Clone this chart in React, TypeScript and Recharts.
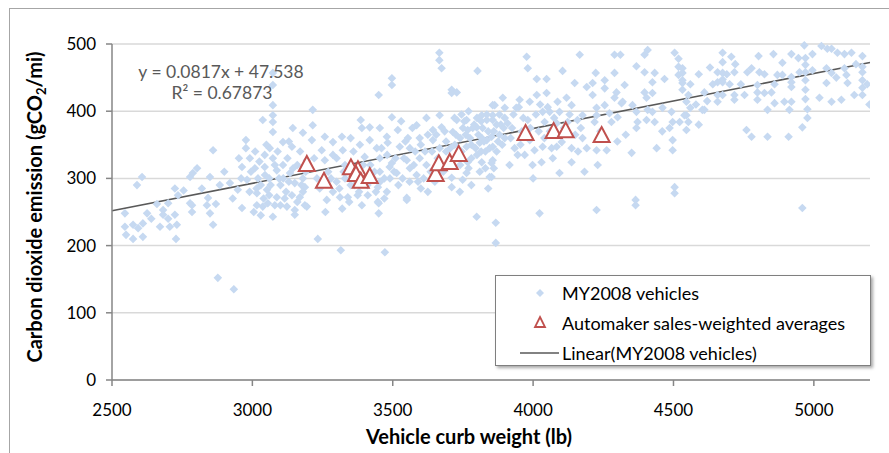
import { ScatterChart, Scatter, XAxis, YAxis, CartesianGrid, ReferenceLine } from "recharts";

const FONT = "Lato, 'Open Sans', sans-serif";

// [curb weight (lb), CO2 (g/mi)]
const vehiclePoints: [number, number][] = [
  // 2500-2800
  [2546, 248], [2589, 290], [2607, 302], [2625, 248], [2682, 253], [2700, 263], [2735, 275],
  [2546, 228], [2550, 216], [2575, 231], [2575, 210], [2610, 213], [2593, 226], [2610, 233],
  [2671, 228], [2682, 246], [2706, 228], [2724, 246], [2731, 231], [2728, 210], [2785, 260],
  [2785, 250], [2778, 263], [2778, 302], [2724, 285], [2640, 240], [2660, 262], [2700, 240],
  [2755, 282],
  // 2800-3000
  [2838, 260], [2849, 248], [2860, 231], [2877, 152], [2934, 135], [2842, 271], [2860, 342],
  [2803, 315], [2788, 308], [2849, 302], [2884, 290], [2920, 293], [2948, 283], [2952, 330],
  [2963, 317], [2977, 357], [2977, 345], [2981, 298], [2963, 256], [2991, 330], [2820, 285],
  [2900, 310], [2930, 270], [2960, 300], [2990, 280], [2870, 262],
  // 3000-3200
  [3016, 260], [3037, 258], [3073, 243], [3123, 258], [3151, 253], [3151, 246], [3194, 258],
  [3073, 457], [3073, 439], [3073, 409], [3073, 394], [3073, 384], [3073, 369], [3037, 387],
  [3144, 375], [3180, 368], [3062, 345], [3109, 354], [3141, 347], [3044, 335], [3073, 330],
  [3109, 320], [3009, 315], [3044, 317], [3087, 312], [3134, 308], [3016, 278], [3052, 283],
  [3087, 272], [3055, 263], [3151, 293], [3187, 287], [3141, 275], [3169, 272], [3020, 300],
  [3030, 290], [3060, 300], [3100, 290], [3120, 280], [3160, 320], [3180, 300], [3010, 340],
  [3090, 340], [3125, 330], [3170, 340], [3040, 270], [3100, 260], [3005, 250], [3190, 310],
  [3110, 300], [3060, 275], [3180, 280], [3015, 285], [3025, 325], [3045, 305], [3065, 290],
  [3080, 320], [3095, 300], [3115, 270], [3130, 295], [3145, 315], [3160, 265], [3175, 290],
  [3030, 245], [3050, 350], [3130, 355], [2995, 310], [3080, 260],
  // 3200-3500
  [3233, 210], [3315, 193], [3450, 248], [3472, 190], [3450, 263], [3215, 402], [3386, 387],
  [3450, 424], [3497, 449], [3497, 439], [3497, 391], [3215, 379], [3212, 357], [3258, 362],
  [3287, 354], [3319, 362], [3390, 375], [3418, 376], [3454, 375], [3418, 357], [3479, 362],
  [3247, 342], [3322, 342], [3383, 350], [3443, 345], [3482, 353], [3194, 327], [3258, 327],
  [3287, 335], [3400, 332], [3454, 330], [3497, 323], [3454, 310], [3489, 317], [3447, 287],
  [3479, 280], [3411, 275], [3287, 280], [3312, 272], [3265, 268], [3340, 272], [3447, 265],
  [3187, 260], [3230, 300], [3270, 310], [3300, 295], [3330, 320], [3350, 290], [3380, 280],
  [3420, 320], [3470, 300], [3240, 285], [3300, 330], [3360, 340], [3430, 300], [3480, 335],
  [3260, 250], [3320, 255], [3390, 260], [3440, 280], [3220, 330], [3350, 360], [3400, 300],
  [3460, 345], [3280, 300], [3310, 285], [3330, 300], [3345, 265], [3360, 310], [3375, 275],
  [3395, 320], [3410, 290], [3435, 310], [3455, 295], [3470, 270], [3490, 300], [3365, 290],
  [3325, 310],
  // 3500-3700
  [3550, 268], [3525, 347], [3561, 345], [3518, 372], [3554, 360], [3596, 360], [3643, 372],
  [3643, 357], [3674, 376], [3550, 327], [3596, 330], [3514, 308], [3561, 315], [3585, 305],
  [3550, 271], [3625, 280], [3585, 379], [3667, 394], [3666, 487], [3666, 476], [3674, 464],
  [3667, 345], [3520, 290], [3560, 295], [3600, 285], [3620, 320], [3640, 340], [3580, 340],
  [3540, 330], [3610, 300], [3680, 310], [3690, 355], [3530, 385], [3570, 375], [3620, 390],
  [3660, 330], [3505, 310], [3600, 350], [3650, 295], [3690, 340], [3510, 330], [3535, 300],
  [3575, 320], [3590, 295], [3615, 340], [3635, 310], [3655, 365], [3685, 370], [3545, 355],
  [3625, 365],
  // 3700-3900
  [3710, 432], [3710, 427], [3728, 428], [3802, 460], [3863, 409], [3728, 387], [3763, 387],
  [3817, 394], [3714, 369], [3767, 372], [3799, 376], [3835, 387], [3835, 357], [3856, 394],
  [3856, 347], [3817, 360], [3721, 350], [3763, 347], [3810, 353], [3767, 324], [3817, 324],
  [3856, 327], [3710, 301], [3763, 308], [3810, 310], [3845, 302], [3749, 298], [3710, 287],
  [3739, 280], [3799, 243], [3867, 234], [3867, 204], [3852, 362], [3852, 323], [3852, 302],
  [3892, 420], [3856, 409], [3899, 405], [3856, 387], [3899, 390], [3899, 360], [3720, 330],
  [3740, 360], [3760, 365], [3780, 350], [3790, 380], [3800, 390], [3820, 375], [3830, 340],
  [3840, 370], [3870, 380], [3880, 365], [3890, 350], [3740, 320], [3780, 330], [3800, 335],
  [3830, 315], [3870, 340], [3750, 375], [3880, 395], [3780, 290], [3840, 285], [3720, 390],
  [3770, 400], [3705, 345], [3725, 365], [3745, 340], [3755, 385], [3775, 360], [3785, 375],
  [3795, 345], [3805, 365], [3815, 385], [3825, 355], [3835, 395], [3845, 345], [3860, 370],
  [3875, 355], [3885, 380], [3895, 375], [3745, 395], [3815, 340], [3770, 315], [3860, 315],
  // 3900-4200
  [3909, 382], [3934, 345], [3945, 335], [3916, 320], [3977, 481], [3981, 464], [4013, 448],
  [4048, 448], [4013, 424], [4048, 427], [3952, 417], [3949, 406], [3988, 414], [4052, 406],
  [4087, 414], [4034, 399], [4059, 399], [4094, 399], [3981, 387], [4041, 384], [4084, 382],
  [4123, 384], [4158, 387], [3988, 357], [4005, 342], [4034, 347], [4066, 345], [4084, 347],
  [4102, 354], [4137, 345], [4176, 360], [4191, 345], [3970, 335], [3998, 320], [4030, 324],
  [4137, 324], [4094, 308], [4183, 310], [4023, 248], [4105, 460], [4148, 442], [4191, 436],
  [4119, 420], [4137, 409], [4166, 484], [4176, 394], [3930, 395], [3960, 370], [3990, 375],
  [4010, 395], [4060, 370], [4110, 375], [4150, 365], [4040, 360], [3920, 360], [4000, 300],
  [4070, 330], [4160, 340], [3925, 375], [3940, 405], [3965, 390], [4025, 410], [4075, 390],
  [4100, 365], [4130, 395], [4170, 375], [3955, 350], [4020, 370],
  // 4200-4500
  [4226, 253], [4212, 442], [4212, 424], [4255, 446], [4255, 434], [4297, 428], [4326, 439],
  [4290, 420], [4315, 412], [4354, 409], [4226, 405], [4255, 409], [4319, 414], [4223, 457],
  [4290, 457], [4290, 484], [4311, 484], [4397, 484], [4408, 491], [4368, 467], [4397, 458],
  [4433, 457], [4425, 443], [4468, 448], [4397, 428], [4404, 420], [4425, 427], [4226, 394],
  [4272, 397], [4301, 391], [4368, 399], [4408, 402], [4425, 399], [4461, 405], [4372, 384],
  [4404, 387], [4433, 384], [4493, 399], [4497, 384], [4486, 375], [4219, 384], [4279, 384],
  [4226, 342], [4262, 342], [4230, 320], [4351, 338], [4368, 375], [4440, 345], [4497, 357],
  [4497, 342], [4365, 268], [4365, 260], [4240, 370], [4330, 365], [4460, 370], [4300, 355],
  // 4500-4800
  [4504, 487], [4518, 478], [4518, 466], [4518, 454], [4532, 464], [4532, 442], [4522, 384],
  [4546, 394], [4546, 372], [4504, 287], [4504, 278], [4760, 372], [4778, 362], [4553, 384],
  [4539, 394], [4603, 402], [4675, 487], [4706, 481], [4675, 473], [4532, 457], [4532, 446],
  [4532, 432], [4553, 424], [4546, 414], [4657, 458], [4675, 457], [4675, 447], [4675, 443],
  [4717, 458], [4763, 458], [4778, 464], [4657, 443], [4657, 424], [4657, 414], [4675, 424],
  [4717, 424], [4717, 417], [4753, 424], [4610, 428], [4610, 402], [4640, 440], [4700, 440],
  [4580, 410], [4740, 440], [4620, 415], [4560, 440], [4590, 455], [4630, 465], [4690, 455],
  [4720, 470], [4560, 405], [4590, 380],
  // 4800-5200
  [4835, 362], [4910, 362], [4959, 376], [4977, 390], [4959, 256], [4835, 402], [4913, 402],
  [4977, 403], [5198, 410], [4966, 498], [5027, 497], [5048, 493], [5063, 493], [5084, 487],
  [5109, 485], [5134, 487], [5173, 482], [4803, 482], [4856, 485], [4920, 485], [4945, 479],
  [4970, 479], [4995, 485], [4888, 472], [4970, 469], [4806, 458], [4824, 455], [4870, 454],
  [4888, 454], [4920, 451], [4920, 443], [4920, 436], [4949, 458], [4970, 458], [4970, 446],
  [4995, 461], [5045, 464], [5045, 442], [5063, 457], [5109, 464], [5116, 454], [5120, 442],
  [5173, 466], [5173, 458], [5173, 446], [5173, 435], [5173, 424], [4799, 439], [4799, 428],
  [4799, 417], [4824, 427], [4849, 428], [4860, 412], [4895, 414], [4920, 414], [4970, 432],
  [4970, 418], [5063, 414], [5098, 417], [5144, 424], [5150, 470], [5080, 450], [5020, 420],
  [4860, 440], [5190, 440],
];

const automakerPoints: [number, number][] = [
  [3194, 320], [3255, 295], [3351, 315], [3376, 312], [3369, 305], [3386, 295], [3418, 302],
  [3653, 305], [3664, 321], [3703, 323], [3735, 335], [3973, 366], [4073, 369], [4116, 370],
  [4244, 363],
];

const X_TICKS = [2500, 3000, 3500, 4000, 4500, 5000];
const Y_TICKS = [0, 100, 200, 300, 400, 500];

// Excel linear trendline shown on the chart
const SLOPE = 0.0817;
const INTERCEPT = 47.538;

const Diamond = (props: any) => {
  const { cx, cy } = props;
  const r = 4.3;
  return (
    <polygon
      points={`${cx},${cy - r} ${cx + r},${cy} ${cx},${cy + r} ${cx - r},${cy}`}
      fill="#C6D9F1"
    />
  );
};

const Triangle = (props: any) => {
  const { cx, cy } = props;
  return (
    <polygon
      points={`${cx},${cy - 9} ${cx + 8},${cy + 6} ${cx - 8},${cy + 6}`}
      fill="#ffffff"
      stroke="#C0504D"
      strokeWidth={2}
      strokeLinejoin="miter"
    />
  );
};

export default function App() {
  const vehicles = vehiclePoints.map(([x, y]) => ({ x, y }));
  const automakers = automakerPoints.map(([x, y]) => ({ x, y }));
  const tickStyle = { fontFamily: FONT, fontSize: 17, fill: "#000" };

  return (
    <div
      style={{
        position: "absolute",
        left: 0,
        top: 0,
        width: 889,
        height: 453,
        overflow: "hidden",
        background: "#fff",
        fontFamily: FONT,
      }}
    >
      <div
        style={{
          position: "absolute",
          left: 9,
          top: 8,
          width: 900,
          height: 470,
          border: "1.5px solid #a6a6a6",
        }}
      />
      <div style={{ position: "absolute", left: 0, top: 0 }}>
        <ScatterChart width={889} height={453} margin={{ top: 44, right: 19, bottom: 0, left: 0 }}>
          <CartesianGrid vertical={false} stroke="#d9d9d9" strokeWidth={1.5} />
          <XAxis
            type="number"
            dataKey="x"
            domain={[2500, 5200]}
            ticks={X_TICKS}
            allowDataOverflow
            height={73}
            axisLine={{ stroke: "#868686", strokeWidth: 1.5 }}
            tickLine={{ stroke: "#868686", strokeWidth: 1.5 }}
            tickSize={6}
            tickMargin={18}
            tick={tickStyle}
          />
          <YAxis
            type="number"
            dataKey="y"
            domain={[0, 500]}
            ticks={Y_TICKS}
            width={112}
            axisLine={{ stroke: "#868686", strokeWidth: 1.5 }}
            tickLine={{ stroke: "#868686", strokeWidth: 1.5 }}
            tickSize={6}
            tickMargin={10}
            tick={tickStyle}
          />
          <Scatter data={vehicles} shape={Diamond} isAnimationActive={false} />
          <ReferenceLine
            segment={[
              { x: 2500, y: SLOPE * 2500 + INTERCEPT },
              { x: 5200, y: SLOPE * 5200 + INTERCEPT },
            ]}
            stroke="#595959"
            strokeWidth={1.6}
          />
          <Scatter data={automakers} shape={Triangle} isAnimationActive={false} />
        </ScatterChart>
      </div>
      <svg
        width={889}
        height={453}
        style={{ position: "absolute", left: 0, top: 0, pointerEvents: "none" }}
      >
        <text
          x={221}
          y={78}
          textAnchor="middle"
          fontFamily={FONT}
          fontSize={17.5}
          fill="#595959"
        >
          {`y = ${SLOPE}x + ${INTERCEPT}`}
        </text>
        <text
          x={222}
          y={99}
          textAnchor="middle"
          fontFamily={FONT}
          fontSize={17.5}
          fill="#595959"
        >
          R² = 0.67873
        </text>
        <text
          x={469}
          y={444}
          textAnchor="middle"
          fontFamily={FONT}
          fontSize={20}
          fontWeight="bold"
          fill="#000"
        >
          Vehicle curb weight (lb)
        </text>
        <text
          transform="rotate(-90)"
          x={-207}
          y={42}
          textAnchor="middle"
          fontFamily={FONT}
          fontSize={20}
          fontWeight="bold"
          fill="#000"
        >
          Carbon dioxide emission (gCO
          <tspan fontSize={13} dy={4}>2</tspan>
          <tspan dy={-4}>/mi)</tspan>
        </text>
      </svg>
      <div
        style={{
          position: "absolute",
          left: 495,
          top: 275,
          width: 374,
          height: 89,
          border: "1.5px solid #7f7f7f",
          background: "#fff",
          boxShadow: "2px 2px 3px rgba(0,0,0,0.35)",
          fontSize: 18,
          color: "#000",
        }}
      >
        {[
          { label: "MY2008 vehicles", kind: "diamond" },
          { label: "Automaker sales-weighted averages", kind: "triangle" },
          { label: "Linear(MY2008 vehicles)", kind: "line" },
        ].map((item, i) => (
          <div
            key={item.label}
            style={{
              position: "absolute",
              left: 0,
              top: 5 + i * 30,
              height: 24,
              display: "flex",
              alignItems: "center",
              whiteSpace: "nowrap",
            }}
          >
            <svg width={66} height={24} style={{ flex: "none" }}>
              {item.kind === "diamond" && (
                <polygon points="44,8 48,12 44,16 40,12" fill="#C6D9F1" />
              )}
              {item.kind === "triangle" && (
                <polygon
                  points="44,6 49,16 39,16"
                  fill="#fff"
                  stroke="#C0504D"
                  strokeWidth={1.8}
                />
              )}
              {item.kind === "line" && (
                <line x1={24} y1={12} x2={63} y2={12} stroke="#595959" strokeWidth={1.5} />
              )}
            </svg>
            <span>{item.label}</span>
          </div>
        ))}
      </div>
    </div>
  );
}
